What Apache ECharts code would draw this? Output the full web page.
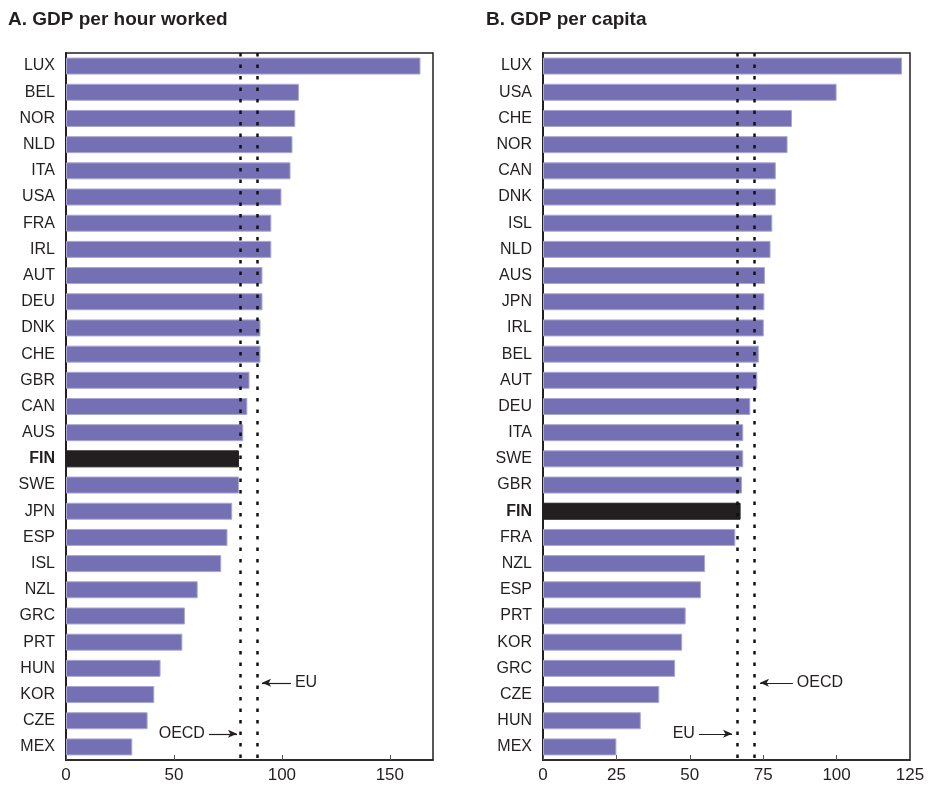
<!DOCTYPE html>
<html>
<head>
<meta charset="utf-8">
<script src="https://cdn.jsdelivr.net/npm/echarts@6/dist/echarts.min.js"></script>
<style>
  html, body { margin: 0; padding: 0; background: #fff; }
  #chart { width: 933px; height: 785px; }
</style>
</head>
<body>
<div id="chart"></div>
<script>
// panel A: GDP per hour worked
const namesA = ['LUX', 'BEL', 'NOR', 'NLD', 'ITA', 'USA', 'FRA', 'IRL', 'AUT', 'DEU', 'DNK', 'CHE', 'GBR', 'CAN',
  'AUS', 'FIN', 'SWE', 'JPN', 'ESP', 'ISL', 'NZL', 'GRC', 'PRT', 'HUN', 'KOR', 'CZE', 'MEX'];
const valuesA = [164.2, 107.9, 106.2, 104.9, 104.0, 99.8, 95.1, 95.1, 91.0, 91.0, 90.1, 90.1, 85.0, 84.0,
  82.1, 80.1, 80.1, 77.0, 74.8, 71.9, 61.0, 55.1, 53.9, 43.8, 40.9, 37.8, 30.7];

// panel B: GDP per capita
const namesB = ['LUX', 'USA', 'CHE', 'NOR', 'CAN', 'DNK', 'ISL', 'NLD', 'AUS', 'JPN', 'IRL', 'BEL', 'AUT', 'DEU',
  'ITA', 'SWE', 'GBR', 'FIN', 'FRA', 'NZL', 'ESP', 'PRT', 'KOR', 'GRC', 'CZE', 'HUN', 'MEX'];
const valuesB = [122.3, 100.0, 84.8, 83.3, 79.3, 79.3, 78.1, 77.5, 75.6, 75.4, 75.2, 73.5, 73.0, 70.6,
  68.2, 68.2, 67.8, 67.3, 65.5, 55.2, 53.8, 48.6, 47.4, 45.0, 39.6, 33.3, 25.0];

// reference lines (OECD, EU)
const refNames = ['OECD', 'EU'];
const refA = [80.5, 88.8];
const refB = [72.1, 66.0];

// arrow annotations: [text, from x, to x, row position]
const arrowsA = [['EU', 104.2, 90.8, 24.05], ['OECD', 66.2, 79.2, 26.0]];
const arrowsB = [['OECD', 85.1, 73.9, 24.05], ['EU', 53.1, 64.4, 26.0]];

const titles = ['A. GDP per hour worked', 'B. GDP per capita'];
const ticksA = { max: 170, interval: 50 };
const ticksB = { max: 125, interval: 25 };

const barColor = '#7570b3';
const finColor = '#231f20';
const ink = '#231f20';

var chart = echarts.init(document.getElementById('chart'), null, { renderer: 'canvas' });

function barData(names, values) {
  return values.map(function (v, i) {
    if (names[i] === 'FIN') {
      return { value: v, itemStyle: { color: finColor, borderColor: finColor } };
    }
    return v;
  });
}

function arrowLines(arrows) {
  return arrows.map(function (a) {
    return [
      { coord: [a[1], a[3]], name: a[0], symbol: 'none' },
      { coord: [a[2], a[3]], symbol: 'arrow', symbolSize: [6, 9] }
    ];
  });
}

function catAxis(idx, names) {
  return {
    type: 'category', gridIndex: idx, data: names, inverse: true,
    axisLine: { show: true, onZero: false, lineStyle: { color: ink, width: 2 } },
    axisTick: { show: false },
    axisLabel: {
      fontSize: 16, color: ink, margin: 11,
      formatter: function (v) { return v === 'FIN' ? '{b|' + v + '}' : v; },
      rich: { b: { fontSize: 16, fontWeight: 'bold', color: ink } }
    }
  };
}

var grids = [
  { left: 66, right: 500, top: 53, bottom: 25 },
  { left: 543, right: 23, top: 53, bottom: 25 }
];

var option = {
  animation: false,
  backgroundColor: '#fff',
  textStyle: { fontFamily: 'Liberation Sans, Arial, sans-serif' },
  title: [
    { text: titles[0], left: 3, top: 5, textStyle: { fontSize: 19, fontWeight: 'bold', color: ink } },
    { text: titles[1], left: 481, top: 5, textStyle: { fontSize: 19, fontWeight: 'bold', color: ink } }
  ],
  grid: grids.map(function (g) {
    return Object.assign({ show: true, borderColor: ink, borderWidth: 1.5, containLabel: false }, g);
  }),
  xAxis: [ticksA, ticksB].map(function (t, i) {
    return {
      type: 'value', gridIndex: i, min: 0, max: t.max, interval: t.interval, position: 'bottom',
      axisLine: { show: true, onZero: false, lineStyle: { color: ink, width: 1.5 } },
      axisTick: { show: true, inside: true, length: 5, lineStyle: { color: '#555' } },
      axisLabel: { fontSize: 17, color: ink, margin: 7, showMaxLabel: t.max % t.interval === 0 },
      splitLine: { show: false }
    };
  }),
  yAxis: [
    catAxis(0, namesA),
    catAxis(1, namesB),
    // hidden row scales for the arrow notes
    { type: 'value', gridIndex: 0, min: 0, max: 27, inverse: true, show: false },
    { type: 'value', gridIndex: 1, min: 0, max: 27, inverse: true, show: false }
  ],
  series: [
    {
      type: 'bar', xAxisIndex: 0, yAxisIndex: 0, barWidth: 17,
      itemStyle: { color: barColor, borderColor: '#a9a6d3', borderWidth: 1 },
      data: barData(namesA, valuesA),
      markLine: {
        silent: true, symbol: 'none', label: { show: false },
        lineStyle: { color: '#111', type: [3.5, 8], width: 2.5 },
        data: refA.map(function (v, i) { return { xAxis: v, name: refNames[i] }; })
      },
      z: 2
    },
    {
      type: 'bar', xAxisIndex: 1, yAxisIndex: 1, barWidth: 17,
      itemStyle: { color: barColor, borderColor: '#a9a6d3', borderWidth: 1 },
      data: barData(namesB, valuesB),
      markLine: {
        silent: true, symbol: 'none', label: { show: false },
        lineStyle: { color: '#111', type: [3.5, 8], width: 2.5 },
        data: refB.map(function (v, i) { return { xAxis: v, name: refNames[i] }; })
      },
      z: 2
    },
    {
      type: 'scatter', xAxisIndex: 0, yAxisIndex: 2, data: [],
      markLine: {
        silent: true, animation: false,
        lineStyle: { color: ink, type: 'solid', width: 1.2 },
        label: { show: true, position: 'start', formatter: '{b}', fontSize: 16, color: ink, distance: 4 },
        data: arrowLines(arrowsA)
      }
    },
    {
      type: 'scatter', xAxisIndex: 1, yAxisIndex: 3, data: [],
      markLine: {
        silent: true, animation: false,
        lineStyle: { color: ink, type: 'solid', width: 1.2 },
        label: { show: true, position: 'start', formatter: '{b}', fontSize: 16, color: ink, distance: 4 },
        data: arrowLines(arrowsB)
      }
    }
  ]
};

chart.setOption(option);
</script>
</body>
</html>
